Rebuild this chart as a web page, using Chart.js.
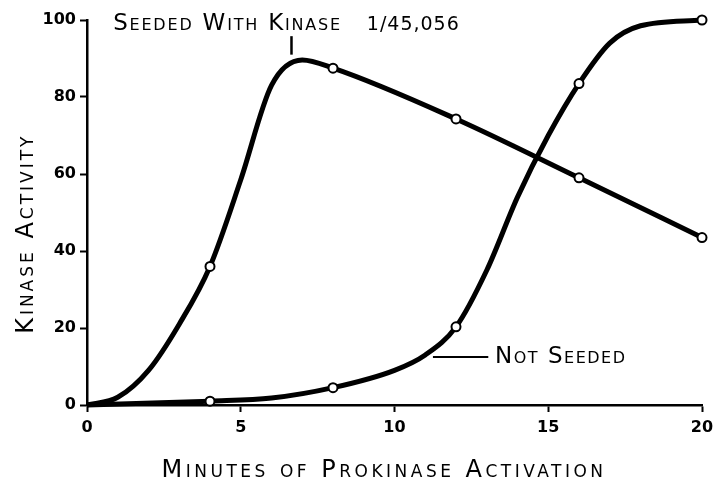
<!DOCTYPE html>
<html>
<head>
<meta charset="utf-8">
<script src="https://cdn.jsdelivr.net/npm/chart.js@4/dist/chart.umd.min.js"></script>
<style>
  html, body { margin: 0; padding: 0; background: #fff; }
  #wrap { width: 714px; height: 479px; }
</style>
</head>
<body>
<div id="wrap"><canvas id="chart"></canvas></div>
<script>
const seededMinutes = [0, 1, 2, 3, 4, 5, 6, 7, 8, 12, 16, 20];
const seededActivity = [0, 2, 9, 21, 36, 58.5, 83, 89.6, 87.5, 74.3, 59, 43.5];
const notSeededMinutes = [0, 4, 6, 8, 10, 11, 12, 13, 14, 15, 16, 17, 18, 20];
const notSeededActivity = [0, 1, 1.8, 4.5, 9, 13, 20.3, 35, 54, 70, 83.5, 94, 98.5, 100];
const measuredMinutes = [4, 8, 12, 16, 20];
const xTicks = [0, 5, 10, 15, 20];
const yTicks = [0, 20, 40, 60, 80, 100];

const FONT = "'DejaVu Sans', sans-serif";

const toPoints = (xs, ys) => xs.map((m, i) => ({ x: m, y: ys[i] }));
const markerRadius = xs => xs.map(m => measuredMinutes.includes(m) ? 4.5 : 0);

const labels = {
  id: 'labels',
  afterDatasetsDraw(chart) {
    const { ctx, chartArea, scales: { x, y } } = chart;
    ctx.save();
    ctx.fillStyle = '#000';
    ctx.strokeStyle = '#000';
    ctx.lineWidth = 2.5;
    ctx.textBaseline = 'alphabetic';
    ctx.textAlign = 'left';

    // seeded label + leader
    ctx.letterSpacing = '1.8px';
    ctx.font = `small-caps 23px ${FONT}`;
    ctx.fillText('Seeded With Kinase', x.getPixelForValue(0.85), y.getPixelForValue(97.3));
    ctx.letterSpacing = '1px';
    ctx.font = `19px ${FONT}`;
    ctx.fillText('1/45,056', x.getPixelForValue(9.1), y.getPixelForValue(97.3));
    ctx.beginPath();
    ctx.moveTo(x.getPixelForValue(6.65), y.getPixelForValue(95.8));
    ctx.lineTo(x.getPixelForValue(6.65), y.getPixelForValue(91));
    ctx.stroke();

    // not seeded label + leader
    ctx.letterSpacing = '1.5px';
    ctx.font = `small-caps 23px ${FONT}`;
    ctx.fillText('Not Seeded', x.getPixelForValue(13.27), y.getPixelForValue(11));
    ctx.lineWidth = 2;
    ctx.beginPath();
    ctx.moveTo(x.getPixelForValue(11.25), y.getPixelForValue(12.5));
    ctx.lineTo(x.getPixelForValue(13.05), y.getPixelForValue(12.5));
    ctx.stroke();

    // axis titles
    ctx.font = `small-caps 24px ${FONT}`;
    ctx.textAlign = 'center';
    ctx.letterSpacing = '3.5px';
    ctx.fillText('Minutes of Prokinase Activation', chartArea.left + (chartArea.right - chartArea.left) * 0.483, chart.height - 2);
    ctx.letterSpacing = '3px';
    ctx.translate(33, chartArea.top + (chartArea.bottom - chartArea.top) * 0.555);
    ctx.rotate(-Math.PI / 2);
    ctx.fillText('Kinase Activity', 0, 0);
    ctx.restore();
  }
};

const lineStyle = {
  borderColor: '#000',
  borderWidth: 5,
  pointBackgroundColor: '#fff',
  pointBorderColor: '#000',
  pointBorderWidth: 2,
  cubicInterpolationMode: 'monotone',
  clip: false,
  fill: false
};

new Chart(document.getElementById('chart'), {
  type: 'line',
  data: {
    datasets: [
      {
        label: 'Seeded With Kinase 1/45,056',
        data: toPoints(seededMinutes, seededActivity),
        pointRadius: markerRadius(seededMinutes),
        ...lineStyle
      },
      {
        label: 'Not Seeded',
        data: toPoints(notSeededMinutes, notSeededActivity),
        pointRadius: markerRadius(notSeededMinutes),
        ...lineStyle
      }
    ]
  },
  options: {
    responsive: true,
    maintainAspectRatio: false,
    animation: false,
    layout: {
      padding: { top: 20, right: 12, left: 0, bottom: 0 }
    },
    plugins: {
      legend: { display: false },
      tooltip: { enabled: false }
    },
    scales: {
      x: {
        type: 'linear',
        min: 0,
        max: 20,
        afterBuildTicks: scale => { scale.ticks = xTicks.map(v => ({ value: v })); },
        afterFit: scale => {
          scale.height = 74;
          scale.paddingLeft = 0;
          scale.paddingRight = 0;
        },
        border: { display: true, color: '#000', width: 2.5 },
        grid: { drawOnChartArea: false, drawTicks: true, tickLength: 7, tickColor: '#000', tickWidth: 2 },
        ticks: { color: '#000', padding: 6, font: { family: FONT, size: 16, weight: 'bold' } }
      },
      y: {
        min: 0,
        max: 100,
        afterBuildTicks: scale => { scale.ticks = yTicks.map(v => ({ value: v })); },
        afterFit: scale => {
          scale.width = 87;
          scale.paddingTop = 0;
          scale.paddingBottom = 0;
        },
        border: { display: true, color: '#000', width: 2.5 },
        grid: { drawOnChartArea: false, drawTicks: true, tickLength: 7, tickColor: '#000', tickWidth: 2 },
        ticks: { color: '#000', padding: 4, font: { family: FONT, size: 16, weight: 'bold' } }
      }
    }
  },
  plugins: [labels]
});
</script>
</body>
</html>
